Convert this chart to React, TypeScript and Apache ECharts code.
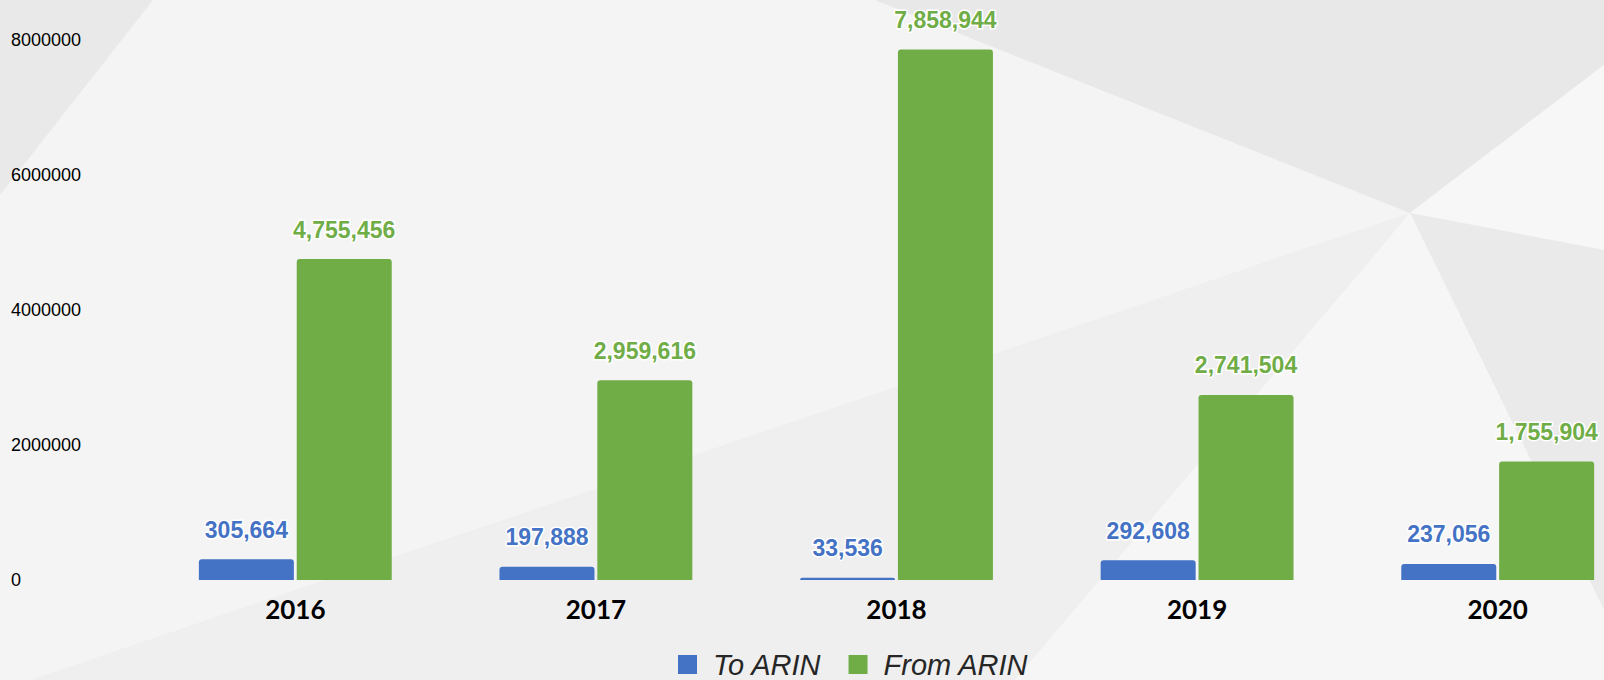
import React, { useEffect, useRef } from "react";
import * as echarts from "echarts";

const categories = ["2016", "2017", "2018", "2019", "2020"];
const toArin = [305664, 197888, 33536, 292608, 237056];
const fromArin = [4755456, 2959616, 7858944, 2741504, 1755904];
const seriesNames = ["To ARIN", "From ARIN"];

const fmt = (v: number) => v.toLocaleString("en-US");

export default function App() {
  const ref = useRef<HTMLDivElement>(null);
  useEffect(() => {
    document.body.style.margin = "0";
    const chart = echarts.init(ref.current!, undefined, { renderer: "svg" });
    const C = [1410, 213];
    const bg = (points: number[][], fill: string) => ({
      type: "polygon",
      silent: true,
      z: -100,
      shape: { points },
      style: { fill },
    });
    const labelCommon = {
      show: true,
      position: "top",
      distance: 18,
      fontFamily: "Liberation Sans, Arial, sans-serif",
      fontWeight: "bold",
      fontSize: 23,
      textBorderColor: "#ffffff",
      textBorderWidth: 3,
      formatter: (p: any) => fmt(p.value),
    };
    chart.setOption({
      animation: false,
      backgroundColor: "#f4f4f4",
      graphic: [
        bg([[0, 0], [153, 0], [0, 195]], "#e9e9e9"),
        bg([[875, 0], [1604, 0], [1604, 65], C], "#e8e8e8"),
        bg([C, [1604, 65], [1604, 250]], "#f7f7f7"),
        bg([C, [1604, 250], [1604, 610]], "#eaeaea"),
        bg([C, [1604, 610], [1604, 680], [1015, 680]], "#f6f6f6"),
        bg([C, [1015, 680], [0, 690]], "#efefef"),
      ],
      grid: {
        left: 145,
        width: 1503,
        top: 40,
        height: 540,
        containLabel: false,
        outerBoundsMode: "none",
      },
      legend: {
        data: seriesNames,
        left: 673,
        top: 645,
        itemWidth: 19,
        itemHeight: 19,
        itemGap: 27,
        icon: "rect",
        textStyle: {
          fontFamily: "Liberation Sans, Arial, sans-serif",
          fontStyle: "italic",
          fontSize: 29,
          lineHeight: 26,
          color: "#262626",
          padding: [0, 0, 0, 11],
        },
      },
      xAxis: {
        type: "category",
        data: categories,
        axisLine: { show: false },
        axisTick: { show: false },
        axisLabel: {
          margin: 16,
          fontFamily: "Lato, sans-serif",
          fontWeight: "bold",
          fontSize: 26,
          color: "#000000",
        },
      },
      yAxis: {
        type: "value",
        min: 0,
        max: 8000000,
        interval: 2000000,
        splitLine: { show: false },
        axisLine: { show: false },
        axisTick: { show: false },
        axisLabel: {
          align: "left",
          margin: 134,
          fontFamily: "Liberation Sans, Arial, sans-serif",
          fontSize: 18,
          color: "#000000",
          formatter: (v: number) => String(v),
        },
      },
      series: [
        {
          name: seriesNames[0],
          type: "bar",
          data: toArin,
          barWidth: 95,
          barGap: "3%",
          itemStyle: { color: "#4472C4", borderRadius: [3, 3, 0, 0] },
          label: { ...labelCommon, color: "#4472C4" },
        },
        {
          name: seriesNames[1],
          type: "bar",
          data: fromArin,
          barWidth: 95,
          barGap: "3%",
          itemStyle: { color: "#70AD47", borderRadius: [3, 3, 0, 0] },
          label: { ...labelCommon, color: "#70AD47" },
        },
      ],
    });
    return () => chart.dispose();
  }, []);
  return (
    <div
      ref={ref}
      style={{ position: "fixed", left: 0, top: 0, width: 1604, height: 680 }}
    />
  );
}
